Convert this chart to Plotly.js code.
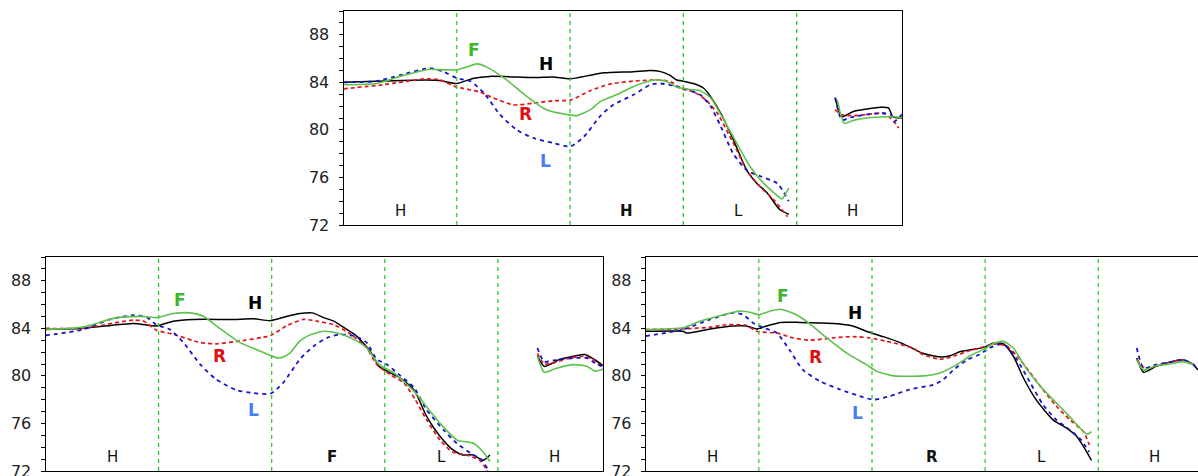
<!DOCTYPE html>
<html>
<head>
<meta charset="utf-8">
<script src="https://cdn.plot.ly/plotly-3.0.1.min.js"></script>
<style>
html,body{margin:0;padding:0;overflow:hidden;background:#fff;}
#chart{width:1210px;height:490px;}
</style>
</head>
<body>
<div id="chart"></div>
<script>
// ---------------- data ----------------
const seriesNames = ["H", "R", "L", "F"];
const segmentLabelsTop = ["H", "", "H", "L", "H"];
const segmentLabelsLeft = ["H", "", "F", "L", "H"];
const segmentLabelsRight = ["H", "", "R", "L", "H"];
const segmentLabelXTop = [0.5, 1.5, 2.5, 3.49, 4.49];
const segmentLabelXBottom = [0.59, 1.5, 2.53, 3.5, 4.5];
const boldSegment = 2;
const yTickVals = [72, 76, 80, 84, 88];
const dividers = [1, 2, 3, 4];

// Top panel
const topX_H = [0,0.29,0.73,0.85,1.0,1.15,1.29,1.68,1.85,2.0,2.18,2.3,2.56,2.71,2.8,2.88,2.94,3.0,3.09,3.18,3.24,3.33,3.44,3.56,3.65,3.74,3.85,3.93,null,4.34,4.40,4.5,4.62,4.74,4.81,4.85,4.93];
const topY_H = [84.0,84.1,84.2,84.15,83.9,84.35,84.5,84.4,84.45,84.3,84.6,84.8,84.9,85.0,84.9,84.6,84.2,84.1,83.9,83.5,82.8,81.4,79.2,76.6,75.5,74.7,73.3,72.9,null,82.7,81.1,81.55,81.75,81.9,81.85,81.1,81.0];
const topX_R = [0,0.35,0.73,0.85,1.0,1.2,1.32,1.5,1.68,1.85,2.0,2.18,2.35,2.56,2.8,2.9,2.97,3.09,3.2,3.3,3.44,3.56,3.68,3.8,3.92,null,4.34,4.39,4.5,4.62,4.77,4.86,4.9];
const topY_R = [83.45,83.8,84.3,84.2,83.6,83.2,82.7,82.1,82.25,82.45,82.5,83.3,83.85,84.1,84.2,84.0,83.5,83.2,82.5,81.4,78.9,76.6,75.2,74.1,72.7,null,81.7,81.3,81.2,81.3,81.4,80.7,80.15];
const topX_L = [0,0.29,0.5,0.76,0.88,1.0,1.12,1.24,1.38,1.53,1.68,1.85,2.0,2.12,2.27,2.38,2.56,2.71,2.8,2.92,3.03,3.15,3.24,3.33,3.44,3.56,3.68,3.83,3.93,null,4.34,4.40,4.5,4.62,4.74,4.83,4.86,4.93];
const topY_L = [84.0,84.1,84.6,85.2,84.9,84.35,84.1,83.1,81.3,80.0,79.3,78.9,78.6,79.4,81.2,82.1,82.95,83.8,83.9,83.7,83.4,82.95,82.0,80.3,78.0,76.6,76.1,75.5,74.0,null,82.7,80.85,81.1,81.3,81.4,81.3,80.7,81.3];
const topX_F = [0,0.29,0.5,0.76,0.88,1.0,1.09,1.18,1.26,1.44,1.62,1.79,1.97,2.06,2.18,2.27,2.41,2.56,2.74,2.85,2.94,3.06,3.15,3.24,3.33,3.47,3.59,3.71,3.8,3.87,3.93,null,4.36,4.42,4.5,4.62,4.8,4.86,4.93];
const topY_F = [83.8,83.9,84.5,85.1,85.05,85.05,85.3,85.55,85.3,84.2,82.8,81.7,81.3,81.2,81.7,82.4,82.95,83.65,84.2,84.1,83.6,83.4,83.3,82.7,81.3,78.9,76.9,75.5,74.7,74.2,75.1,null,82.5,80.55,80.8,81.0,81.1,81.1,81.0];

// Bottom-left panel
const leftX_H = [0,0.33,0.78,0.98,1.13,1.31,1.66,1.84,1.99,2.13,2.25,2.36,2.46,2.55,2.64,2.75,2.87,2.95,3.02,3.14,3.26,3.37,3.49,3.6,3.69,3.78,3.87,3.93,null,4.35,4.41,4.55,4.67,4.77,4.85,4.94];
const leftY_H = [83.9,84.0,84.4,84.2,84.6,84.75,84.75,84.8,84.65,85.0,85.25,85.3,84.9,84.6,84.05,83.35,82.1,80.8,80.4,79.8,78.8,76.6,74.9,73.8,73.35,73.35,72.9,73.35,null,81.7,80.8,81.4,81.65,81.8,81.4,80.8];
const leftX_R = [0,0.33,0.78,0.87,0.98,1.13,1.37,1.51,1.69,1.99,2.13,2.28,2.4,2.55,2.7,2.84,2.93,3.05,3.17,3.27,3.37,3.49,3.6,3.72,3.84,3.93,null,4.35,4.41,4.5,4.61,4.76,4.84,4.91];
const leftY_R = [84.0,84.0,84.7,84.6,83.85,83.5,82.8,82.7,82.9,83.4,84.2,84.75,84.6,84.3,83.5,82.35,80.95,80.1,79.4,78.0,76.3,74.6,73.6,73.35,72.9,71.7,null,81.9,81.0,81.1,81.45,81.65,81.4,80.8];
const leftX_L = [0,0.33,0.57,0.78,0.9,0.98,1.1,1.22,1.37,1.51,1.69,1.84,1.99,2.1,2.25,2.37,2.49,2.6,2.75,2.84,2.93,3.02,3.14,3.26,3.37,3.52,3.64,3.76,3.86,3.93,null,4.35,4.41,4.52,4.67,4.79,4.88,4.94];
const leftY_L = [83.4,83.9,84.75,85.1,84.9,84.3,83.9,82.8,80.95,79.7,78.8,78.55,78.5,79.4,81.4,82.5,83.2,83.5,83.3,82.8,81.4,80.95,80.0,79.0,77.15,75.45,74.3,73.5,72.9,71.8,null,82.35,81.2,81.35,81.5,81.5,80.95,80.8];
const leftX_F = [0,0.33,0.63,0.87,0.98,1.13,1.28,1.4,1.54,1.72,1.87,2.02,2.07,2.16,2.25,2.34,2.46,2.58,2.73,2.84,2.95,3.08,3.26,3.37,3.49,3.64,3.78,3.87,3.93,null,4.35,4.41,4.52,4.67,4.79,4.86,4.94];
const leftY_F = [83.9,84.1,84.9,85.0,84.9,85.25,85.3,85.0,84.0,82.8,82.2,81.6,81.5,81.9,82.95,83.45,83.75,83.6,83.05,82.35,80.95,80.25,78.7,77.4,76.0,74.6,74.35,73.6,72.8,null,81.65,80.3,80.65,80.95,80.8,80.4,80.6];

// Bottom-right panel
const rightX_H = [0,0.33,0.36,0.57,0.77,0.89,0.98,1.07,1.19,1.36,1.66,1.83,1.95,2.1,2.25,2.33,2.45,2.6,2.69,2.78,2.9,2.99,3.07,3.16,3.25,3.34,3.45,3.6,3.72,3.81,3.87,3.94,null,4.34,4.40,4.51,4.63,4.75,4.84,4.88];
const rightY_H = [83.75,83.75,83.6,83.95,84.2,84.2,83.95,84.2,84.5,84.5,84.4,84.2,83.75,83.3,82.8,82.45,81.9,81.6,81.7,82.05,82.25,82.4,82.75,82.7,81.65,79.8,78.0,76.3,75.6,74.9,74.05,72.9,null,81.5,80.3,80.8,81.15,81.35,80.95,80.5];
const rightX_R = [0,0.33,0.57,0.71,0.89,0.98,1.16,1.3,1.45,1.66,1.83,1.98,2.13,2.36,2.45,2.6,2.72,2.84,2.99,3.1,3.19,3.28,3.4,3.51,3.63,3.75,3.87,3.92,null,4.34,4.41,4.51,4.63,4.75,4.84];
const rightY_R = [83.9,83.95,84.1,84.3,84.25,83.75,83.6,83.2,83.0,83.2,83.3,83.2,82.9,82.35,81.8,81.4,81.65,82.05,82.45,82.7,82.5,81.7,80.25,78.85,77.45,76.3,75.3,74.2,null,81.4,80.65,80.85,81.15,81.35,80.85];
const rightX_L = [0,0.33,0.57,0.77,0.86,0.95,1.04,1.16,1.27,1.39,1.54,1.72,1.89,2.01,2.16,2.33,2.54,2.63,2.72,2.84,2.95,3.04,3.13,3.19,3.28,3.4,3.51,3.63,3.75,3.85,3.92,null,4.34,4.40,4.51,4.63,4.75,4.82,4.88];
const rightY_L = [83.35,83.9,84.75,85.3,85.15,84.45,84.05,83.6,82.2,80.5,79.55,78.85,78.3,78.0,78.3,78.85,79.25,79.7,80.5,81.35,81.8,82.35,82.65,82.5,81.4,79.4,77.6,76.3,75.45,74.6,73.6,null,82.35,80.65,80.95,81.15,81.35,81.1,80.65];
const rightX_F = [0,0.33,0.48,0.63,0.83,0.92,1.0,1.1,1.19,1.33,1.42,1.6,1.78,1.95,2.04,2.19,2.45,2.6,2.75,2.87,2.99,3.07,3.16,3.25,3.34,3.45,3.57,3.72,3.84,3.9,3.94,null,4.34,4.40,4.51,4.63,4.75,4.84];
const rightY_F = [83.9,84.05,84.6,85.0,85.45,85.35,85.15,85.45,85.6,85.15,84.6,83.2,81.9,80.95,80.4,80.0,80.0,80.25,80.95,81.7,82.25,82.7,82.9,82.35,80.95,79.55,78.3,76.85,75.6,75.1,75.3,null,81.35,80.5,80.85,81.0,81.2,80.95];

// Series-label positions [x, y] per panel (order H, R, L, F)
const topLabelPos = [[1.79,85.55],[1.61,81.3],[1.78,77.4],[1.15,86.7]];
const leftLabelPos = [[1.85,86.1],[1.54,81.7],[1.84,77.1],[1.19,86.35]];
const rightLabelPos = [[1.85,85.25],[1.5,81.55],[1.87,76.9],[1.21,86.75]];
const segmentLabelY = 73.15;

// ---------------- styling ----------------
const lineStyle = {
  H: {color: "#000000", width: 1.5, dash: "solid"},
  R: {color: "#e3141b", width: 1.7, dash: "4px,3px"},
  L: {color: "#1414cc", width: 1.8, dash: "4px,4px"},
  F: {color: "#5cc24c", width: 1.6, dash: "solid"}
};
const labelColor = {H: "#000000", R: "#dd1111", L: "#4a7cf3", F: "#3db62c"};
const FONT = "DejaVu Sans, Verdana, sans-serif";

const panels = [
  {xa: "x", ya: "y", data: {H: [topX_H, topY_H], R: [topX_R, topY_R], L: [topX_L, topY_L], F: [topX_F, topY_F]}, labels: topLabelPos, seg: segmentLabelsTop, segX: segmentLabelXTop},
  {xa: "x2", ya: "y2", data: {H: [leftX_H, leftY_H], R: [leftX_R, leftY_R], L: [leftX_L, leftY_L], F: [leftX_F, leftY_F]}, labels: leftLabelPos, seg: segmentLabelsLeft, segX: segmentLabelXBottom},
  {xa: "x3", ya: "y3", data: {H: [rightX_H, rightY_H], R: [rightX_R, rightY_R], L: [rightX_L, rightY_L], F: [rightX_F, rightY_F]}, labels: rightLabelPos, seg: segmentLabelsRight, segX: segmentLabelXBottom}
];

const traces = [];
const annotations = [];
const shapes = [];
panels.forEach(p => {
  seriesNames.forEach((s, i) => {
    traces.push({
      type: "scatter", mode: "lines",
      x: p.data[s][0], y: p.data[s][1],
      xaxis: p.xa, yaxis: p.ya,
      connectgaps: false,
      line: {color: lineStyle[s].color, width: lineStyle[s].width, dash: lineStyle[s].dash, shape: "spline", smoothing: 0.6},
      showlegend: false, hoverinfo: "skip"
    });
    annotations.push({
      x: p.labels[i][0], y: p.labels[i][1], xref: p.xa, yref: p.ya,
      text: "<b>" + s + "</b>", showarrow: false,
      font: {family: FONT, size: 17, color: labelColor[s]}
    });
  });
  p.seg.forEach((t, k) => {
    if (!t) return;
    annotations.push({
      x: p.segX[k], y: segmentLabelY, xref: p.xa, yref: p.ya,
      text: k === boldSegment ? "<b>" + t + "</b>" : t, showarrow: false,
      font: {family: FONT, size: 15, color: "#111"}
    });
  });
  dividers.forEach(d => {
    shapes.push({
      type: "line", xref: p.xa, yref: p.ya + " domain",
      x0: d, x1: d, y0: 0, y1: 1,
      line: {color: "#2ecc2e", width: 1.3, dash: "4px,4px"}
    });
  });
});

const W = 1210, H = 490;
function xaxisDef(l, r) {
  return {domain: [l / W, r / W], range: [0, 4.93], showgrid: false, zeroline: false,
    showticklabels: false, ticks: "", showline: true, linecolor: "#000", linewidth: 1, mirror: true, fixedrange: true};
}
function yaxisDef(top, bottom) {
  return {domain: [(H - bottom) / H, (H - top) / H], range: [72, 90], showgrid: false, zeroline: false,
    tickmode: "array", tickvals: yTickVals, ticks: "outside", ticklen: 4, tickcolor: "#000",
    minor: {dtick: 1, tick0: 72, ticks: "outside", ticklen: 4, tickcolor: "#000"},
    tickfont: {family: FONT, size: 16, color: "#222"}, ticklabelstandoff: 6,
    showline: true, linecolor: "#000", linewidth: 1, mirror: true, fixedrange: true};
}

const layout = {
  width: W, height: H,
  margin: {l: 0, r: 0, t: 0, b: 0},
  paper_bgcolor: "#fff", plot_bgcolor: "#fff",
  showlegend: false,
  xaxis: Object.assign(xaxisDef(343.5, 902), {anchor: "y"}),
  yaxis: Object.assign(yaxisDef(11, 225), {anchor: "x"}),
  xaxis2: Object.assign(xaxisDef(45.5, 603), {anchor: "y2"}),
  yaxis2: Object.assign(yaxisDef(257, 471), {anchor: "x2"}),
  xaxis3: Object.assign(xaxisDef(645.7, 1203.5), {anchor: "y3"}),
  yaxis3: Object.assign(yaxisDef(257, 471), {anchor: "x3"}),
  annotations: annotations,
  shapes: shapes
};

Plotly.newPlot("chart", traces, layout, {staticPlot: true, displayModeBar: false});
</script>
</body>
</html>
